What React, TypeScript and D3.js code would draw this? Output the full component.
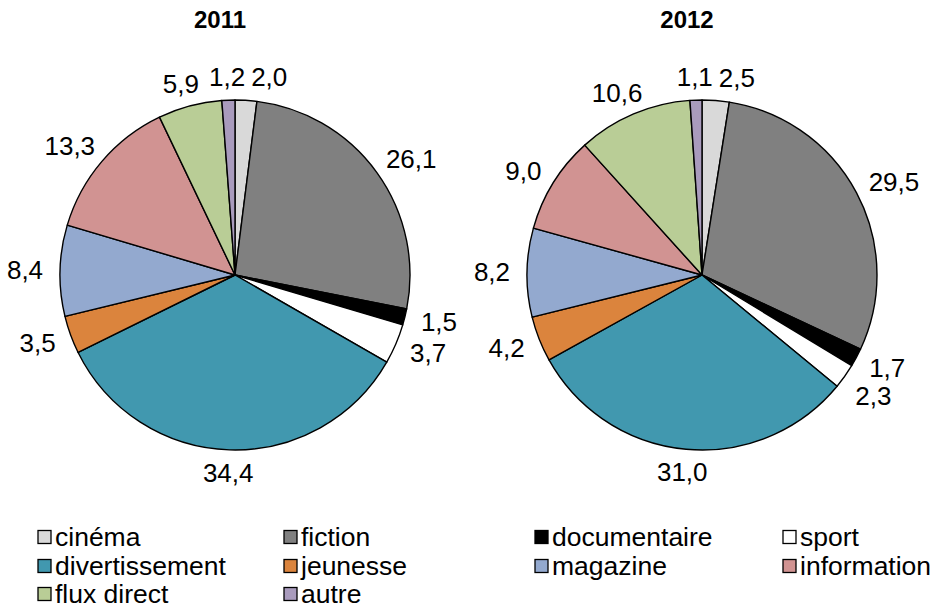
import React from "react";
import * as d3 from "d3";

const categories = ["cinéma", "fiction", "documentaire", "sport", "divertissement", "jeunesse", "magazine", "information", "flux direct", "autre"];
const values2011 = [2.0, 26.1, 1.5, 3.7, 34.4, 3.5, 8.4, 13.3, 5.9, 1.2];
const values2012 = [2.5, 29.5, 1.7, 2.3, 31.0, 4.2, 8.2, 9.0, 10.6, 1.1];
const colors = ["#D9D9D9", "#808080", "#000000", "#FFFFFF", "#4198AF", "#DB843D", "#93A9CF", "#D19392", "#B9CD96", "#A99BBD"];
const years = ["2011", "2012"];

const W = 936, H = 608;
const FONT = "Arial, 'Liberation Sans', sans-serif";
const LABEL_FS = 26;
const LEGEND_FS = 26.5;

const fmt = (v: number) => v.toFixed(1).replace(".", ",");

function textWidth(s: string, fs: number) {
  let w = 0;
  for (const c of s) w += c === "," ? 0.278 : 0.556;
  return w * fs;
}

function Pie({ values, cx, cy, r, title }: { values: number[]; cx: number; cy: number; r: number; title: string }) {
  const pie = d3.pie<number>().sort(null).value((d) => d);
  const arcs = pie(values);
  const arc = d3.arc<d3.PieArcDatum<number>>().innerRadius(0).outerRadius(r);
  const gap = 14;
  const hh = 9;
  const labels = arcs.map((a) => {
    const m = (a.startAngle + a.endAngle) / 2;
    const s = Math.sin(m), c = Math.cos(m);
    const text = fmt(a.data);
    const w = textWidth(text, LABEL_FS);
    const px = (r + gap) * s, py = -(r + gap) * c;
    return { text, w, h: 28, m, x: px + s * (w / 2 + 3), y: py - c * hh };
  });
  // simple collision avoidance: push the clockwise label along its tangent
  const n = labels.length;
  const order = [[n - 1, 0]];
  for (let i = 0; i < n - 1; i++) order.push([i, i + 1]);
  for (const [pi, ci] of order) {
    const p = labels[pi], q = labels[ci];
    const ox = (p.w + q.w) / 2 + 6 - Math.abs(p.x - q.x);
    const oy = (p.h + q.h) / 2 - Math.abs(p.y - q.y);
    if (ox > 0 && oy > 0) {
      const s = Math.sin(q.m), c = Math.cos(q.m);
      if (Math.abs(c) > Math.abs(s)) q.x += Math.sign(c) * ox;
      else q.y += Math.sign(s) * oy;
    }
  }
  return (
    <g>
      <text x={cx - 15} y={28} textAnchor="middle" fontFamily={FONT} fontWeight="bold" fontSize={24} fill="#000">
        {title}
      </text>
      <g transform={`translate(${cx},${cy})`}>
        {arcs.map((a, i) => (
          <path key={i} d={arc(a) || ""} fill={colors[i]} stroke="#000" strokeWidth={1.4} strokeLinejoin="round" />
        ))}
        {labels.map((l, i) => (
          <text key={i} x={l.x} y={l.y + 9} textAnchor="middle" fontFamily={FONT} fontSize={LABEL_FS} fill="#000">
            {l.text}
          </text>
        ))}
      </g>
    </g>
  );
}

export default function App() {
  const colX = [38, 284, 535, 783];
  const rowY = [537, 566, 594];
  return (
    <svg width={W} height={H} style={{ position: "absolute", left: 0, top: 0, background: "#fff" }}>
      <rect width={W} height={H} fill="#fff" />
      <Pie values={values2011} cx={235} cy={275} r={175} title={years[0]} />
      <Pie values={values2012} cx={702} cy={275} r={175} title={years[1]} />
      <g>
        {categories.map((c, i) => {
          const x = colX[i % 4];
          const y = rowY[Math.floor(i / 4)];
          return (
            <g key={c}>
              <rect x={x} y={y - 6.5} width={13} height={13} fill={colors[i]} stroke="#000" strokeWidth={1.3} />
              <text x={x + 17} y={y + 9} fontFamily={FONT} fontSize={LEGEND_FS} fill="#000">
                {c}
              </text>
            </g>
          );
        })}
      </g>
    </svg>
  );
}
